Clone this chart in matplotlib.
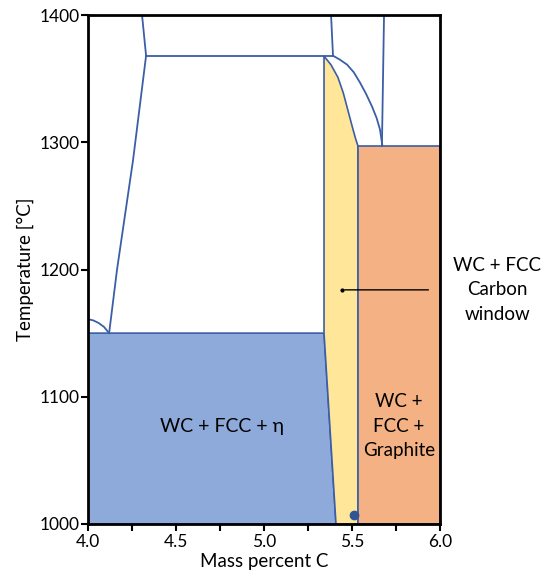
import numpy as np
import matplotlib.pyplot as plt
from matplotlib.ticker import MultipleLocator

plt.rcParams['font.family'] = ['Lato', 'DejaVu Sans']

# phase boundaries (mass % C, temperature °C)
eta_region_x = [4.0, 5.341, 5.409, 4.0]
eta_region_t = [1150, 1150, 1000, 1000]
window_x = [5.341, 5.341, 5.409, 5.534, 5.534, 5.52, 5.50, 5.477, 5.45, 5.42, 5.38, 5.345]
window_t = [1368, 1150, 1000, 1000, 1297, 1303, 1313, 1325, 1339, 1351, 1361, 1367]
graphite_x = [5.534, 6.0, 6.0, 5.534]
graphite_t = [1297, 1297, 1000, 1000]

left_upper_x = [4.307, 4.33]
left_upper_t = [1400, 1368]
left_lower_x = [4.33, 4.256, 4.165, 4.12]
left_lower_t = [1368, 1286, 1200, 1150]
eut_curve_x = [4.0, 4.03, 4.06, 4.09, 4.12]
eut_curve_t = [1161, 1160, 1158, 1155, 1150]
top_line_x = [4.33, 5.392]
top_line_t = [1368, 1368]
mid_line_x = [5.381, 5.392]
mid_line_t = [1400, 1368]
right_line_x = [5.682, 5.67]
right_line_t = [1400, 1297]
outer_curve_x = [5.392, 5.43, 5.472, 5.51, 5.545, 5.58, 5.614, 5.64, 5.659, 5.672]
outer_curve_t = [1368, 1365, 1361, 1355, 1347, 1338, 1328, 1319, 1310, 1298]

dot_x, dot_t = 5.51, 1007
window_label_x, window_label_t = 5.443, 1184

line_col = '#3b5ea6'

fig = plt.figure(figsize=(5.57, 5.73), dpi=100)
ax = fig.add_axes([88 / 557, 49 / 573, 352 / 557, 509 / 573])

ax.fill(eta_region_x, eta_region_t, color='#8eaadb', ec=line_col, lw=1.2)
ax.fill(window_x, window_t, color='#ffe699', ec=line_col, lw=1.2)
ax.fill(graphite_x, graphite_t, color='#f4b183', ec=line_col, lw=1.2)

for xs, ts in [(left_upper_x, left_upper_t), (left_lower_x, left_lower_t),
               (eut_curve_x, eut_curve_t), (top_line_x, top_line_t),
               (mid_line_x, mid_line_t), (right_line_x, right_line_t),
               (outer_curve_x, outer_curve_t)]:
    ax.plot(xs, ts, color=line_col, lw=1.3, solid_joinstyle='round')

ax.plot(dot_x, dot_t, 'o', color='#2f5597', ms=6, clip_on=False)

ax.plot(window_label_x, window_label_t, 'o', color='black', ms=2)
ax.annotate('', xy=(window_label_x, window_label_t), xytext=(5.95, window_label_t),
            arrowprops=dict(arrowstyle='-', color='black', lw=1))
ax.text(6.325, window_label_t, 'WC + FCC\nCarbon\nwindow', ha='center', va='center',
        fontsize=13.5, linespacing=1.55, clip_on=False)

ax.text(4.76, 1077, 'WC + FCC + η', ha='center', va='center', fontsize=14)
ax.text(5.767, 1077, 'WC +\nFCC +\nGraphite', ha='center', va='center', fontsize=13.5,
        linespacing=1.55)

ax.set_xlim(4.0, 6.0)
ax.set_ylim(1000, 1400)
ax.xaxis.set_major_locator(MultipleLocator(0.5))
ax.xaxis.set_minor_locator(MultipleLocator(0.25))
ax.yaxis.set_major_locator(MultipleLocator(100))
ax.xaxis.set_major_formatter(plt.FormatStrFormatter('%.1f'))
ax.tick_params(which='both', direction='out', length=5, width=1.5, labelsize=12.5, pad=2)
ax.tick_params(axis='y', pad=1)
for s in ax.spines.values():
    s.set_linewidth(2)
ax.set_xlabel('Mass percent C', fontsize=13.5, labelpad=2)
ax.set_ylabel('Temperature [°C]', fontsize=13.5, labelpad=4)

fig.savefig('out.png', dpi=100)
